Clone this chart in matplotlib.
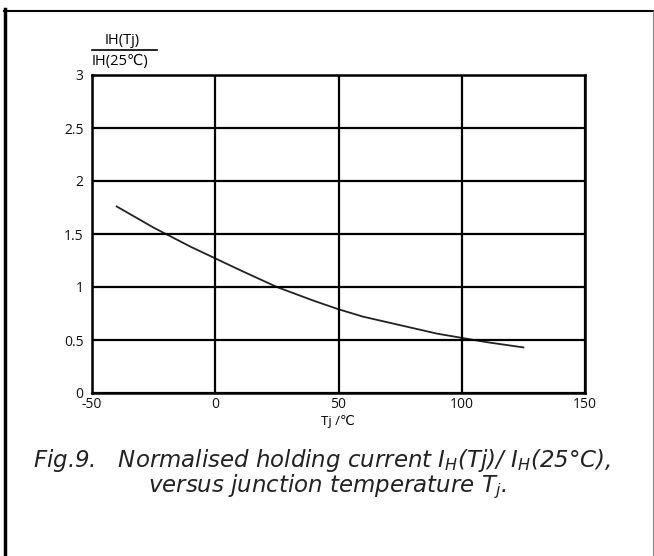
import matplotlib
matplotlib.use("Agg")
import matplotlib.pyplot as plt
from matplotlib.lines import Line2D

# Data
temps = [-40, -25, -10, 0, 10, 25, 40, 50, 60, 75, 90, 100, 110, 125]
ratio = [1.76, 1.56, 1.38, 1.27, 1.16, 1.00, 0.87, 0.79, 0.72, 0.64, 0.56, 0.52, 0.48, 0.43]
xticks = [-50, 0, 50, 100, 150]
yticks = [0, 0.5, 1, 1.5, 2, 2.5, 3]
ytick_labels = ["0", "0.5", "1", "1.5", "2", "2.5", "3"]

plt.rcParams['font.family'] = ['Open Sans', 'DejaVu Sans']
plt.rcParams['axes.unicode_minus'] = False
plt.rcParams['mathtext.fontset'] = 'custom'
plt.rcParams['mathtext.rm'] = 'DejaVu Sans'
plt.rcParams['mathtext.it'] = 'DejaVu Sans:italic'

W, H = 654, 556
fig = plt.figure(figsize=(W / 100, H / 100), dpi=100)
fig.patch.set_facecolor('white')

ax = fig.add_axes([92 / W, 1 - 393 / H, (585 - 92) / W, (393 - 75) / H])
ax.plot(temps, ratio, color='#222222', lw=1.3)
ax.set_xlim(-50, 150)
ax.set_ylim(0, 3)
ax.set_xticks(xticks)
ax.set_yticks(yticks)
ax.set_yticklabels(ytick_labels)
ax.grid(True, color='black', lw=1.6)
for s in ax.spines.values():
    s.set_linewidth(1.8)
    s.set_color('black')
ax.tick_params(length=0, labelsize=10, pad=6, labelcolor='#111111')
ax.tick_params(axis='x', pad=3)
ax.set_axisbelow(False)

# y-axis label as fraction
fig.text(122 / W, 1 - 41 / H, "IH(Tj)", ha='center', va='center', fontsize=10.5)
fig.add_artist(Line2D([92 / W, 157 / W], [1 - 50 / H, 1 - 50 / H], color='black', lw=1.2))
fig.text(92 / W, 1 - 62 / H, "IH(25℃)", ha='left', va='center', fontsize=10.5)

# x-axis label
fig.text(338 / W, 1 - 421 / H, "Tj /℃", ha='center', va='center', fontsize=9.5)

# caption
cap_font = ['DejaVu Sans']
fig.text(33 / W, 1 - 461 / H,
         r"Fig.9.   Normalised holding current I$_{\mathit{H}}$(Tj)/ I$_{\mathit{H}}$(25°C),",
         ha='left', va='center', fontsize=16.5, style='italic', color='#222222',
         family=cap_font)
fig.text(327 / W, 1 - 487 / H, r"versus junction temperature T$_{\mathit{j}}$.",
         ha='center', va='center', fontsize=16.5, style='italic', color='#222222',
         family=cap_font)

# outer frame
fig.add_artist(Line2D([5 / W, 5 / W], [0, 1 - 9 / H], color='black', lw=2.5))
fig.add_artist(Line2D([4 / W, 1], [1 - 11 / H, 1 - 11 / H], color='black', lw=1.5))
fig.add_artist(Line2D([652.5 / W, 652.5 / W], [0, 1 - 11 / H], color='#888888', lw=0.8))

fig.savefig("out.png", dpi=100, facecolor='white')
